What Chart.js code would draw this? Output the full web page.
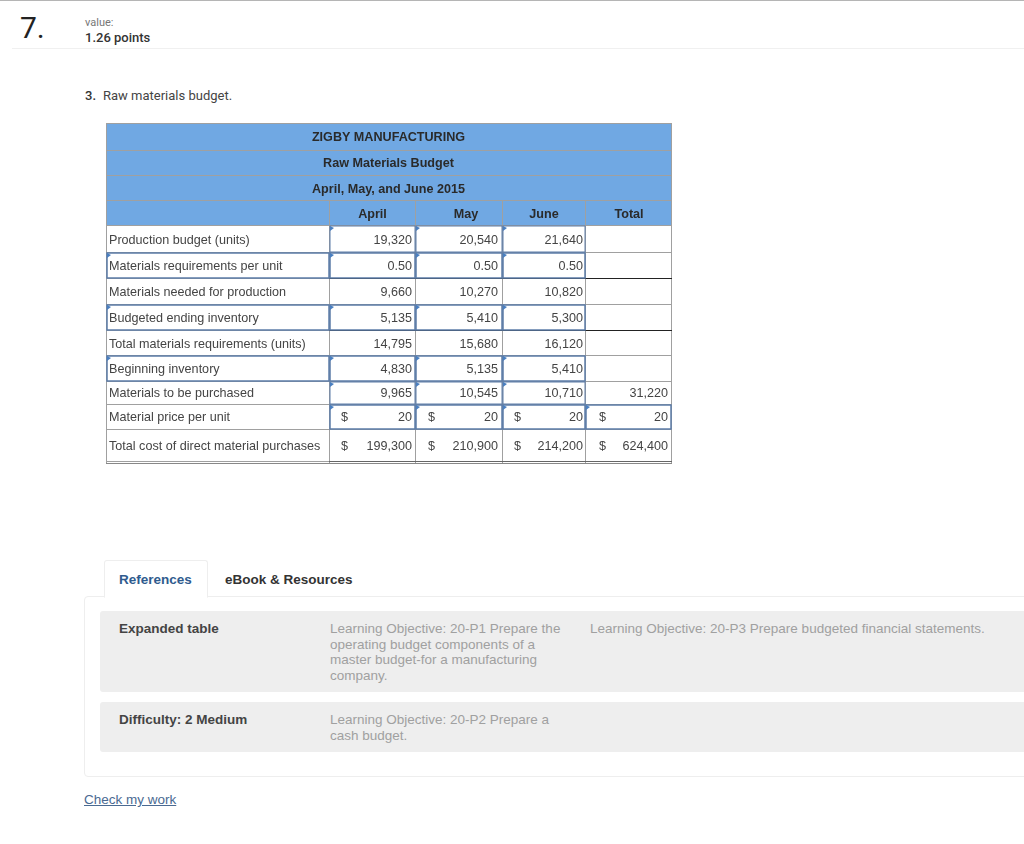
<!DOCTYPE html>
<html><head><meta charset="utf-8">
<script src="https://cdn.jsdelivr.net/npm/chart.js@4"></script>
<style>
html,body{margin:0;padding:0;background:#fff;width:1024px;height:844px;overflow:hidden}
body{position:relative;font-family:"Liberation Sans",Arial,sans-serif;color:#333}
.a{position:absolute;white-space:nowrap}
.box{position:absolute}
.lo{font-size:13.5px;line-height:15.5px;color:#a0a0a0}
canvas{position:absolute;left:0;top:0}
</style></head><body>
<div class="box" style="left:0;top:0;width:1024px;height:1px;background:#b5b5b5"></div>
<div class="a" style="left:20px;top:10px;font:400 30px/36px 'Roboto',sans-serif;color:#222">7.</div>
<div class="a" style="left:85px;top:16px;font:11px/14px 'Roboto',sans-serif;color:#777">value:</div>
<div class="a" style="left:85px;top:29px;font:500 13px/17px 'Roboto',sans-serif;color:#333">1.26 points</div>
<div class="box" style="left:12px;top:48px;width:1012px;height:1px;background:#f0f0f0"></div>
<div class="a" style="left:85px;top:87px;font:500 13px/17px 'Roboto',sans-serif;color:#333">3.</div>
<div class="a" style="left:103px;top:87px;font:13px/17px 'Roboto',sans-serif;color:#444">Raw materials budget.</div>

<div class="box" style="left:84px;top:596px;width:945px;height:179px;border:1px solid #eee;border-radius:4px"></div>
<div class="box" style="left:104px;top:560px;width:102px;height:36px;border:1px solid #eee;border-bottom:1px solid #fff;background:#fff;border-radius:3px 3px 0 0"></div>
<div class="a" style="left:119px;top:572px;font:bold 13.5px/16px 'Liberation Sans';color:#2f5b8e">References</div>
<div class="a" style="left:225px;top:572px;font:bold 13.5px/16px 'Liberation Sans';color:#333">eBook &amp; Resources</div>
<div class="box" style="left:100px;top:611px;width:930px;height:81px;background:#eee;border-radius:3px"></div>
<div class="box" style="left:100px;top:702px;width:930px;height:50px;background:#eee;border-radius:3px"></div>
<div class="a" style="left:119px;top:621px;font:bold 13.5px/16px 'Liberation Sans';color:#444">Expanded table</div>
<div class="a" style="left:119px;top:712px;font:bold 13.5px/16px 'Liberation Sans';color:#444">Difficulty: 2 Medium</div>
<div class="a lo" style="left:330px;top:621px">Learning Objective: 20-P1 Prepare the<br>operating budget components of a<br>master budget-for a manufacturing<br>company.</div>
<div class="a lo" style="left:590px;top:621px">Learning Objective: 20-P3 Prepare budgeted financial statements.</div>
<div class="a lo" style="left:330px;top:712px">Learning Objective: 20-P2 Prepare a<br>cash budget.</div>
<div class="a" style="left:84px;top:792px;font:13.5px/16px 'Liberation Sans';color:#4a6a92;text-decoration:underline">Check my work</div>

<canvas id="c" width="1024" height="844"></canvas>
<script>
const titleLines = ["ZIGBY MANUFACTURING", "Raw Materials Budget", "April, May, and June 2015"];
const columnHeaders = ["April", "May", "June", "Total"];
const rowLabels = ["Production budget (units)", "Materials requirements per unit", "Materials needed for production",
  "Budgeted ending inventory", "Total materials requirements (units)", "Beginning inventory",
  "Materials to be purchased", "Material price per unit", "Total cost of direct material purchases"];
const aprilValues = [19320, 0.5, 9660, 5135, 14795, 4830, 9965, 20, 199300];
const mayValues   = [20540, 0.5, 10270, 5410, 15680, 5135, 10545, 20, 210900];
const juneValues  = [21640, 0.5, 10820, 5300, 16120, 5410, 10710, 20, 214200];
const totalValues = [null, null, null, null, null, null, 31220, 20, 624400];

/* layout constants (page pixels) */
const colEdges = [106, 329, 415, 502, 585, 671];
const rowEdges = [123, 150, 175, 200, 225, 252, 278, 304, 330, 355, 381, 404, 429, 461];
const rowText  = [241, 267, 293, 319, 345, 370, 394, 418, 447];
const headText = [138, 164, 190];
const headY = 215, headX = [372.5, 466, 544, 629], titleX = 388.5;
const rightX = [412, 498, 583, 668], dollarX = [345, 432, 518, 603];
const inputRows = {0:[1,2,3], 1:[0,1,2,3], 3:[0,1,2,3], 5:[0,1,2,3], 6:[1,2,3], 7:[1,2,3,4]};
const dollarRows = [7, 8];
const INK = "#444", BLUE = "#70a8e3", GRID = "#a0a0a0", EDGE = "#5c7ca8", FONT = '12.6px "Liberation Sans"', BOLD = 'bold 12.6px "Liberation Sans"';

const fmt = (v, r) => v === null ? "" : (r === 1 ? v.toFixed(2) : v.toLocaleString("en-US"));
const columns = [aprilValues, mayValues, juneValues, totalValues];
const datasets = columns.map((vals, c) => ({
  label: columnHeaders[c],
  data: vals.map((v, r) => ({x: rightX[c], y: rowText[r], text: fmt(v, r), r})).filter(p => p.text !== ""),
  pointRadius: 0
}));

const tablePlugin = {
  id: "budgetTable",
  afterDatasetsDraw(chart) {
    const g = chart.ctx, X = chart.scales.x, Y = chart.scales.y;
    const px = v => X.getPixelForValue(v), py = v => Y.getPixelForValue(v);
    const line = (x1, y1, x2, y2, col, w) => { g.strokeStyle = col; g.lineWidth = w; g.beginPath(); g.moveTo(px(x1), py(y1)); g.lineTo(px(x2), py(y2)); g.stroke(); };
    const L = colEdges[0], R = colEdges[5], T = rowEdges[0], B = rowEdges[13];
    g.save();
    g.fillStyle = BLUE; g.fillRect(px(L), py(T), px(R) - px(L), py(rowEdges[4]) - py(T));
    g.fillStyle = "#fff"; g.fillRect(px(L), py(rowEdges[4]), px(R) - px(L), py(B) - py(rowEdges[4]));
    rowEdges.forEach(y => line(L, y + .5, R + 1, y + .5, GRID, 1));
    colEdges.forEach((x, i) => line(x + .5, (i === 0 || i === 5) ? T : rowEdges[3], x + .5, B + 2, GRID, 1));
    line(colEdges[1], rowEdges[6] + .5, R + 1, rowEdges[6] + .5, "#222", 1);
    line(colEdges[1], rowEdges[8] + .5, R + 1, rowEdges[8] + .5, "#222", 1);
    line(colEdges[1], B + .5, R + 1, B + .5, "#666", 1);
    line(L, B + 2.5, R + 1, B + 2.5, "#888", 1);
    Object.keys(inputRows).forEach(k => {
      const r = +k;
      inputRows[k].forEach(c => {
        const x1 = colEdges[c], x2 = colEdges[c + 1], y1 = rowEdges[r + 4], y2 = rowEdges[r + 5];
        g.strokeStyle = EDGE; g.lineWidth = r === 0 || r === 6 ? 1 : 1.5;
        g.strokeRect(px(x1) + 1, py(y1) + 1, px(x2) - px(x1) - 1, py(y2) - py(y1) - 1);
        g.fillStyle = "#4a7fc0"; g.beginPath();
        g.moveTo(px(x1) + 1, py(y1) + 1); g.lineTo(px(x1) + 5, py(y1) + 3); g.lineTo(px(x1) + 1, py(y1) + 6); g.fill();
      });
    });
    g.textBaseline = "middle"; g.fillStyle = "#2a2a2a"; g.font = BOLD; g.textAlign = "center";
    titleLines.forEach((t, i) => g.fillText(t, px(titleX), py(headText[i])));
    columnHeaders.forEach((t, i) => g.fillText(t, px(headX[i]), py(headY)));
    g.font = FONT; g.fillStyle = INK; g.textAlign = "left";
    rowLabels.forEach((t, r) => g.fillText(t, px(109), py(rowText[r])));
    dollarRows.forEach(r => dollarX.forEach(x => g.fillText("$", px(x - 4), py(rowText[r]))));
    g.textAlign = "right";
    chart.data.datasets.forEach((ds, i) => {
      chart.getDatasetMeta(i).data.forEach((el, j) => g.fillText(ds.data[j].text, el.x, el.y));
    });
    g.restore();
  }
};

new Chart(document.getElementById("c"), {
  type: "scatter",
  data: {datasets},
  plugins: [tablePlugin],
  options: {
    responsive: false, animation: false, devicePixelRatio: 1,
    layout: {padding: 0},
    plugins: {legend: {display: false}, tooltip: {enabled: false}, title: {display: false}},
    scales: {
      x: {type: "linear", min: 0, max: 1024, display: false},
      y: {type: "linear", min: 0, max: 844, reverse: true, display: false}
    }
  }
});
</script>
</body></html>
